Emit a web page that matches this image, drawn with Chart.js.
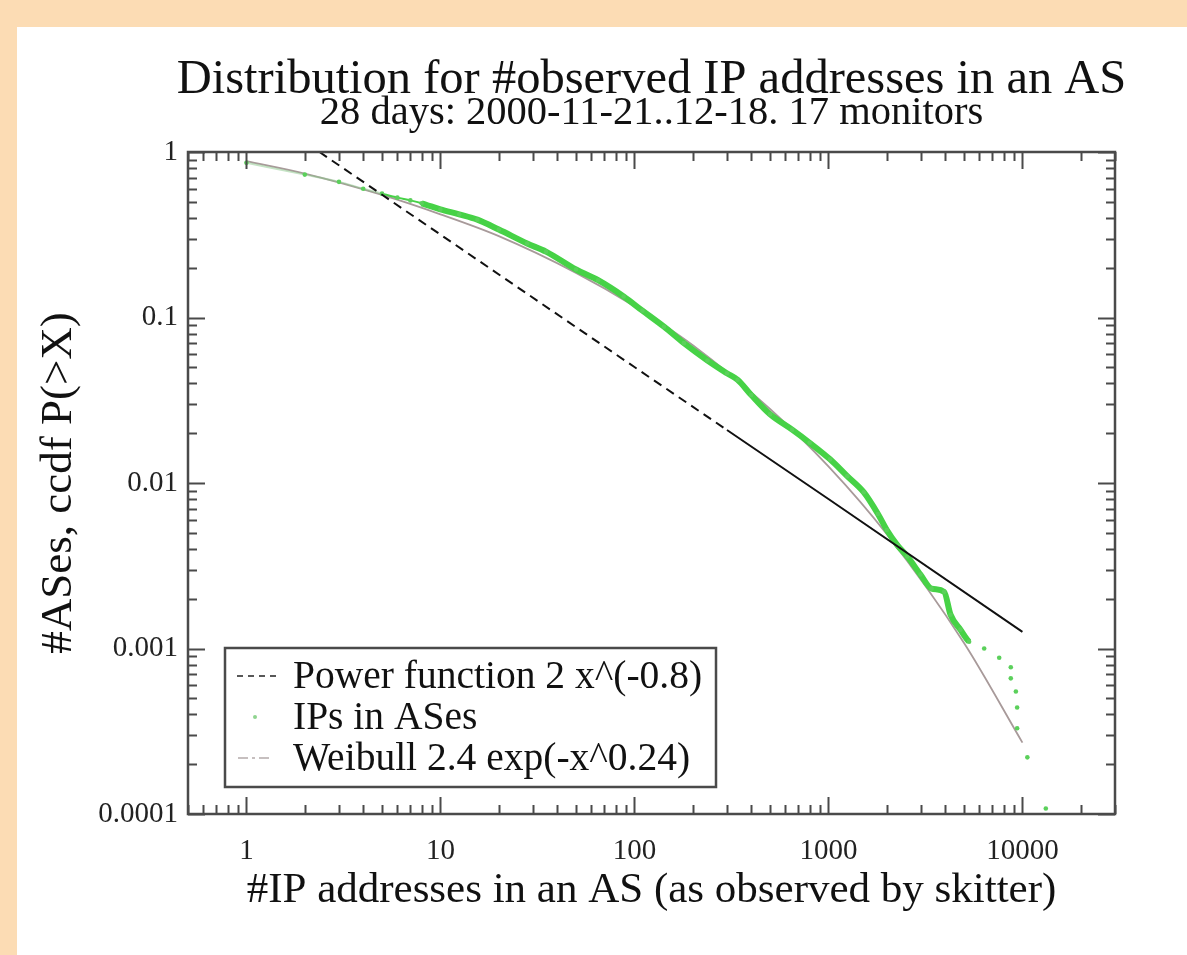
<!DOCTYPE html>
<html>
<head>
<meta charset="utf-8">
<script src="https://cdn.jsdelivr.net/npm/chart.js@4.4.1/dist/chart.umd.min.js"></script>
<style>
    html, body { margin: 0; padding: 0; }
    body { width: 1187px; height: 955px; background: #fcdcb4; position: relative; overflow: hidden; }
    #panel { position: absolute; left: 17px; top: 27px; right: 0; bottom: 0; background: #ffffff; }
    #ccdfChart { position: absolute; left: 0; top: 0; }
</style>
</head>
<body>
<div id="panel"></div>
<canvas id="ccdfChart" width="1187" height="955"></canvas>
<script>
const titleText = "Distribution for #observed IP addresses in an AS";
const subtitleText = "28 days: 2000-11-21..12-18. 17 monitors";
const xAxisTitle = "#IP addresses in an AS (as observed by skitter)";
const yAxisTitle = "#ASes, ccdf P(>X)";

const xTickValues = [1, 10, 100, 1000, 10000];
const xTickLabels = ["1", "10", "100", "1000", "10000"];
const yTickValues = [0.0001, 0.001, 0.01, 0.1, 1];
const yTickLabels = ["0.0001", "0.001", "0.01", "0.1", "1"];

// power function 2 x^(-0.8)
const powerX = [2.38, 10, 100, 300, 1000, 10000];
const powerY = [1, 0.317, 0.0502, 0.0209, 0.008, 0.00126];

// measured ccdf (green dots)
const ipsX = [1, 2, 3, 4, 5, 6, 7, 8, 10, 12.5, 15.5, 20, 28, 35, 50, 65, 88, 110, 142, 180, 238, 300, 340, 400, 500, 650, 800, 1020, 1250, 1520, 1800, 2000, 2270, 2550, 2980, 3400, 3950, 4260, 4790, 5310,
    6350, 7590, 8710, 8710, 9250, 9390, 9390, 10600, 13200];
const ipsY = [0.86, 0.73, 0.66, 0.6, 0.56, 0.53, 0.51, 0.49, 0.45, 0.42, 0.39, 0.34, 0.28, 0.25, 0.195, 0.168, 0.134, 0.11, 0.088, 0.07, 0.055, 0.046, 0.042, 0.034, 0.026, 0.021, 0.0175, 0.0139, 0.011, 0.0088, 0.0065, 0.0052, 0.0042, 0.0036, 0.0028, 0.0023, 0.0022, 0.0016, 0.0013, 0.0011,
    0.001, 0.00088, 0.00077, 0.00066, 0.00055, 0.00044, 0.00033, 0.00022, 0.000108];

// Weibull 2.4 exp(-x^0.24)
const weibullX = [1, 2, 5, 10, 20, 50, 100, 200, 500, 1000, 2000, 5000, 10000];
const weibullY = [0.88, 0.74, 0.55, 0.42, 0.31, 0.186, 0.117, 0.068, 0.028, 0.0126, 0.0049, 0.00108, 0.00027];

const serif = "'Liberation Serif', 'Times New Roman', serif";
const frameColor = "#4a4a4a";
const green = "#46d246";

function toPoints(xs, ys) {
    return xs.map((x, i) => ({ x, y: ys[i] }));
}

// draws the frame with inward major/minor ticks on all four sides
const framePlugin = {
    id: "frame",
    afterDatasetsDraw(chart) {
        const { ctx, chartArea: a, scales } = chart;
        const xs = scales.x;
        const ys = scales.y;
        ctx.save();
        ctx.strokeStyle = frameColor;
        ctx.lineWidth = 2;

        const xMinor = [];
        [0.1, 1, 10, 100, 1000, 10000].forEach((d) => {
            for (let m = 2; m <= 9; m++) {
                const v = m * d;
                if (v >= 0.5 && v <= 30000) xMinor.push(v);
            }
        });
        const yMinor = [];
        [0.0001, 0.001, 0.01, 0.1].forEach((d) => {
            for (let m = 2; m <= 9; m++) yMinor.push(m * d);
        });

        ctx.beginPath();
        xTickValues.forEach((v) => {
            const px = Math.round(xs.getPixelForValue(v)) + 0.5;
            ctx.moveTo(px, a.bottom); ctx.lineTo(px, a.bottom - 17);
            ctx.moveTo(px, a.top); ctx.lineTo(px, a.top + 17);
        });
        xMinor.forEach((v) => {
            const px = Math.round(xs.getPixelForValue(v)) + 0.5;
            ctx.moveTo(px, a.bottom); ctx.lineTo(px, a.bottom - 9);
            ctx.moveTo(px, a.top); ctx.lineTo(px, a.top + 9);
        });
        yTickValues.forEach((v) => {
            const py = Math.round(ys.getPixelForValue(v)) + 0.5;
            ctx.moveTo(a.left, py); ctx.lineTo(a.left + 17, py);
            ctx.moveTo(a.right, py); ctx.lineTo(a.right - 17, py);
        });
        yMinor.forEach((v) => {
            const py = Math.round(ys.getPixelForValue(v)) + 0.5;
            ctx.moveTo(a.left, py); ctx.lineTo(a.left + 9, py);
            ctx.moveTo(a.right, py); ctx.lineTo(a.right - 9, py);
        });
        ctx.stroke();

        ctx.lineWidth = 2.5;
        ctx.strokeRect(a.left, a.top, a.right - a.left, a.bottom - a.top);
        ctx.restore();
    },
};

// title, subtitle and the boxed legend inside the plot
const textPlugin = {
    id: "texts",
    afterDraw(chart) {
        const { ctx, chartArea: a } = chart;
        const cx = (a.left + a.right) / 2;
        ctx.save();
        ctx.fillStyle = "#111";
        ctx.textAlign = "center";
        ctx.textBaseline = "alphabetic";
        ctx.font = `48.5px ${serif}`;
        ctx.fillText(titleText, cx, 93);
        ctx.font = `40.5px ${serif}`;
        ctx.fillText(subtitleText, cx, 124);

        const boxL = a.left + 37;
        const boxT = a.bottom - 166;
        const boxR = a.left + 528;
        const boxB = a.bottom - 27;
        ctx.fillStyle = "#ffffff";
        ctx.fillRect(boxL, boxT, boxR - boxL, boxB - boxT);
        ctx.strokeStyle = frameColor;
        ctx.lineWidth = 2.5;
        ctx.strokeRect(boxL, boxT, boxR - boxL, boxB - boxT);

        const rows = [boxT + 28, boxT + 69, boxT + 110];
        const ds = chart.data.datasets;
        ctx.font = `39.5px ${serif}`;
        ctx.textAlign = "left";
        ctx.textBaseline = "middle";
        ctx.fillStyle = "#111";
        ds.forEach((d, i) => {
            ctx.fillText(d.label, boxL + 68, rows[i] + 2);
        });

        ctx.lineWidth = 1.5;
        ctx.strokeStyle = "#222";
        ctx.setLineDash([6, 5]);
        ctx.beginPath();
        ctx.moveTo(boxL + 12, rows[0]); ctx.lineTo(boxL + 52, rows[0]);
        ctx.stroke();

        ctx.strokeStyle = "#b4aaaa";
        ctx.setLineDash([10, 4, 3, 4]);
        ctx.beginPath();
        ctx.moveTo(boxL + 13, rows[2]); ctx.lineTo(boxL + 47, rows[2]);
        ctx.stroke();
        ctx.setLineDash([]);

        ctx.fillStyle = "#8fd48f";
        ctx.beginPath();
        ctx.arc(boxL + 30, rows[1], 2, 0, Math.PI * 2);
        ctx.fill();
        ctx.restore();
    },
};

new Chart(document.getElementById("ccdfChart"), {
    type: "line",
    data: {
        datasets: [
            {
                label: "Power function 2 x^(-0.8)",
                data: toPoints(powerX, powerY),
                borderColor: "#111",
                borderWidth: 2,
                pointRadius: 0,
                segment: {
                    borderDash: (ctx) => (ctx.p0.parsed.x < 300 ? [9, 6] : []),
                },
            },
            {
                label: "IPs in ASes",
                data: toPoints(ipsX, ipsY),
                borderColor: green,
                borderWidth: 6,
                pointRadius: 2.3,
                pointBorderWidth: 0,
                pointBackgroundColor: "#5bd05b",
                cubicInterpolationMode: "monotone",
                segment: {
                    borderColor: (ctx) => {
                        if (ctx.p0.parsed.x >= 5310) return "rgba(0,0,0,0)";
                        if (ctx.p0.parsed.x < 5) return "rgba(140,200,140,0.5)";
                        return green;
                    },
                    borderWidth: (ctx) => (ctx.p0.parsed.x < 8 ? 2 : 6),
                },
            },
            {
                label: "Weibull 2.4 exp(-x^0.24)",
                data: toPoints(weibullX, weibullY),
                borderColor: "#a89a9a",
                borderWidth: 1.8,
                pointRadius: 0,
                cubicInterpolationMode: "monotone",
            },
        ],
    },
    options: {
        responsive: false,
        animation: false,
        events: [],
        layout: {
            padding: { left: 17, right: 72, top: 152, bottom: 0 },
        },
        plugins: {
            legend: { display: false },
            tooltip: { enabled: false },
        },
        scales: {
            x: {
                type: "logarithmic",
                min: 0.5,
                max: 30000,
                afterBuildTicks: (scale) => {
                    scale.ticks = xTickValues.map((v) => ({ value: v }));
                },
                afterFit: (scale) => {
                    scale.height = 141;
                },
                grid: { display: false, drawTicks: false },
                border: { display: false },
                ticks: {
                    autoSkip: false,
                    maxRotation: 0,
                    padding: 20,
                    color: "#222",
                    font: { family: serif, size: 29 },
                    callback: (value) => xTickLabels[xTickValues.indexOf(value)],
                },
                title: {
                    display: true,
                    text: xAxisTitle,
                    color: "#111",
                    font: { family: serif, size: 43, lineHeight: 1 },
                    padding: { top: 0, bottom: 43 },
                },
            },
            y: {
                type: "logarithmic",
                min: 0.0001,
                max: 1,
                afterBuildTicks: (scale) => {
                    scale.ticks = yTickValues.map((v) => ({ value: v }));
                },
                afterFit: (scale) => {
                    scale.width = 171;
                },
                grid: { display: false, drawTicks: false },
                border: { display: false },
                ticks: {
                    autoSkip: false,
                    padding: 10,
                    color: "#222",
                    font: { family: serif, size: 29 },
                    callback: (value) => yTickLabels[yTickValues.indexOf(value)],
                },
                title: {
                    display: true,
                    text: yAxisTitle,
                    color: "#111",
                    font: { family: serif, size: 45, lineHeight: 1 },
                    padding: { top: 20, bottom: 0 },
                },
            },
        },
    },
    plugins: [framePlugin, textPlugin],
});
</script>
</body>
</html>
